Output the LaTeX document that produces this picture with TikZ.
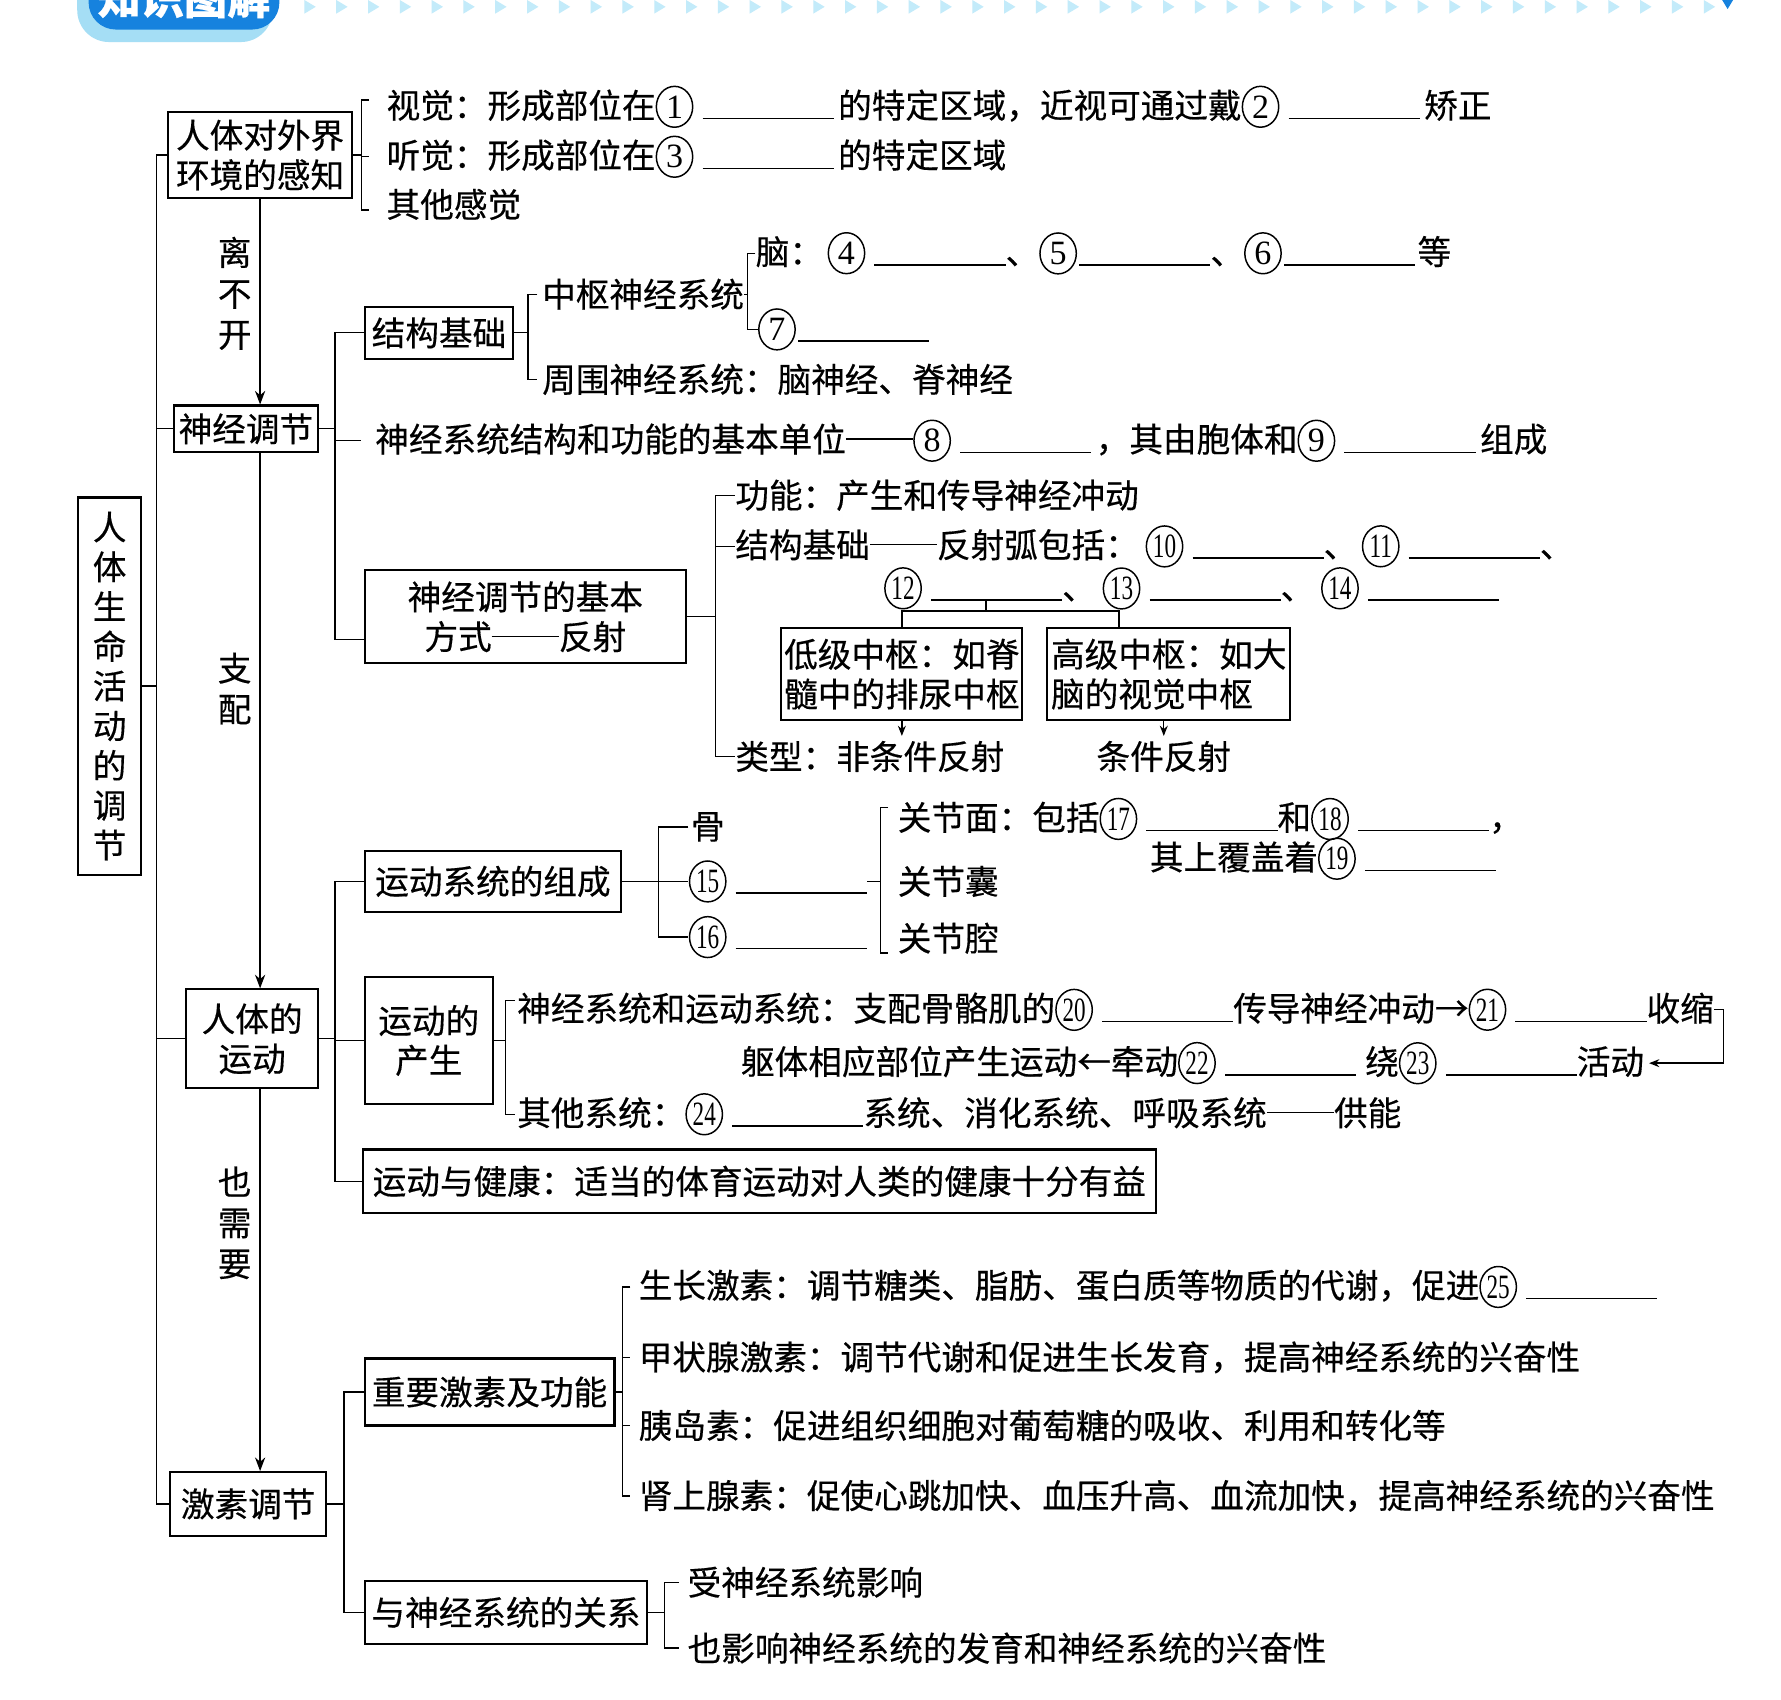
\documentclass[tikz,border=0pt]{standalone}
\usepackage{graphicx}
\usepackage{fontspec}
\setmainfont{Noto Sans CJK SC}[FakeBold=0.4]
\newfontfamily\numfont{Liberation Serif}
\usetikzlibrary{positioning,arrows.meta,shapes.geometric}
\definecolor{bannerblue}{RGB}{22,130,222}
\definecolor{bannerglow}{RGB}{165,222,245}
\definecolor{arrowcyan}{RGB}{195,235,250}
\newcommand{\circnum}[1]{\tikz[baseline=(cn.base)]\node[ellipse,draw,line width=0.65pt,inner sep=0pt,minimum width=16pt,minimum height=18pt,anchor=center,font=\numfont\fontsize{15pt}{15pt}\selectfont](cn){\ifnum#1>9 \scalebox{0.68}[1]{#1}\else#1\fi};}
\newcommand{\fillin}{\rule[-0.5pt]{3.9em}{0.6pt}}
\newcommand{\emline}{\rule[0.36em]{2em}{0.6pt}}

\begin{document}
\begin{tikzpicture}[
  x=0.5pt, y=-0.5pt,
  font=\fontsize{14.8pt}{17.5pt}\selectfont,
  topic/.style={draw, line width=0.9pt, align=center, inner sep=1pt},
  leaf/.style={anchor=west, inner xsep=0pt, inner ysep=2pt},
  link/.style={line width=0.6pt},
  flow/.style={line width=0.6pt, -{Stealth[length=6pt,width=4.5pt]}},
  sflow/.style={line width=0.6pt, -{Stealth[length=4.5pt,width=3.5pt]}},
  side/.style={left, align=center, inner xsep=3.5pt, inner ysep=0pt, font=\fontsize{14.8pt}{18pt}\selectfont},
]
\useasboundingbox (0,0) rectangle (1568,1496);
\fill[white] (0,0) rectangle (1568,1496);

\fill[bannerglow, rounded corners=14pt] (68,-40) rectangle (240,37);
\fill[bannerblue, rounded corners=12pt] (78,-40) rectangle (246,26);
\node[text=white, font=\fontsize{19pt}{19pt}\selectfont\bfseries] (banner) at (162,-2) {知识图解};
\foreach \i in {0,...,44}
  \fill[arrowcyan] (268+\i*28,0) -- ++(0,12) -- ++(10,-6) -- cycle;
\fill[bannerblue] (1515,-2) -- (1527,-2) -- (1521,8) -- cycle;

\node[topic, minimum width=27.5pt, minimum height=166pt] (life) at (96.5,604) {人\\体\\生\\命\\活\\动\\的\\调\\节};
\node[topic, minimum width=81pt, minimum height=37.5pt] (sense) at (229,136.5) {人体对外界\\环境的感知};
\node[topic, minimum width=63.5pt, minimum height=20.5pt] (nerve) at (216.5,377.5) {神经调节};
\node[topic, minimum width=58pt, minimum height=43.5pt] (motion) at (222,914.5) {人体的\\运动};
\node[topic, minimum width=68.5pt, minimum height=28pt] (hormone) at (218.5,1324) {激素调节};

\coordinate (tk) at (138,0);
\draw[link] (sense.west) -| (tk |- hormone.west) -- (hormone.west);
\draw[link] (life.east) -- (life.east -| tk);
\draw[link] (nerve.west) -- (nerve.west -| tk);
\draw[link] (motion.west) -- (motion.west -| tk);

\draw[flow] (sense.south) -- node[side, pos=0.46] {离\\不\\开} (sense.south |- nerve.north);
\draw[flow] (nerve.south -| sense.south) -- node[side, pos=0.44] {支\\配} (motion.north -| sense.south);
\draw[flow] (motion.south -| sense.south) -- node[side, pos=0.35] {也\\需\\要} (hormone.north -| sense.south);

\node[leaf] (vis) at (340,94) {视觉：形成部位在\circnum{1}\hspace{4pt}\fillin\hspace{2pt}的特定区域，近视可通过戴\circnum{2}\hspace{4pt}\fillin\hspace{2pt}矫正};
\node[leaf] (aud) at (340,138) {听觉：形成部位在\circnum{3}\hspace{4pt}\fillin\hspace{2pt}的特定区域};
\node[leaf] (oth) at (340,180) {其他感觉};
\coordinate (sb) at (318,0);
\draw[link] ([shift={(-7.5pt,3pt)}]vis.west) -| ([shift={(-11pt,-2.5pt)}]oth.west) -- ([shift={(-7.5pt,-2.5pt)}]oth.west);
\draw[link] (sense.east) -- (sense.east -| sb);
\draw[link] (aud.west -| sb) -- ([xshift=-7.5pt]aud.west);

\node[topic, minimum width=65.5pt, minimum height=23pt] (struct) at (386.5,293) {结构基础};
\node[leaf] (unit) at (330,388) {神经系统结构和功能的基本单位\emline\circnum{8}\hspace{4pt}\fillin\hspace{2pt}，其由胞体和\circnum{9}\hspace{4pt}\fillin\hspace{2pt}组成};
\node[topic, minimum width=141.5pt, minimum height=41pt] (reflex) at (462.5,543) {神经调节的基本\\方式\emline 反射};
\coordinate (nb) at (295,0);
\draw[link] (nerve.east) -- (nerve.east -| nb);
\draw[link] (struct.west) -- (struct.west -| nb) |- ([yshift=-10pt]reflex.west);
\draw[link] (unit.west -| nb) -- ([xshift=-6pt]unit.west);

\node[leaf] (cns) at (477,259) {中枢神经系统};
\node[leaf] (pns) at (477,334) {周围神经系统：脑神经、脊神经};
\coordinate (cb1) at (465,0);
\draw[link] ([xshift=-2pt]cns.west) -| ([xshift=-6pt]pns.west) -- ([xshift=-2pt]pns.west);
\draw[link] (struct.east) -- (struct.east -| cb1);

\node[leaf] (brain) at (665,223) {脑：\hspace{2pt}\circnum{4}\hspace{4pt}\fillin{}、\circnum{5}\hspace{1pt}\fillin{}、\circnum{6}\hspace{1pt}\fillin\hspace{1pt}等};
\node[leaf] (spine) at (667,290) {\circnum{7}\hspace{1pt}\fillin};
\coordinate (cb2) at (658,0);
\draw[link] (brain.west) -| ([xshift=-4.5pt]spine.west) -- (spine.west);
\draw[link] (cns.east) -- (cns.east -| cb2);

\node[leaf] (func) at (647,436) {功能：产生和传导神经冲动};
\node[leaf] (arc) at (647,481) {结构基础\emline 反射弧包括：\hspace{3pt}\circnum{10}\hspace{4pt}\fillin{}、\hspace{2pt}\circnum{11}\hspace{4pt}\fillin{}、};
\node[leaf] (arcb) at (778,518) {\circnum{12}\hspace{4pt}\fillin{}、\hspace{3pt}\circnum{13}\hspace{4pt}\fillin{}、\hspace{3pt}\circnum{14}\hspace{4pt}\fillin};
\node[topic, align=left, minimum width=106pt, minimum height=40.5pt] (low) at (794,593.5) {低级中枢：如脊\\髓中的排尿中枢};
\node[topic, align=left, minimum width=107pt, minimum height=40.5pt] (high) at (1029,593.5) {高级中枢：如大\\脑的视觉中枢};
\node[leaf] (type) at (647,666) {类型：非条件反射};
\node[leaf] (cond) at (965,666) {条件反射};
\coordinate (rb) at (630,0);
\draw[link] (func.west) -| ([xshift=-8.5pt]type.west) -- (type.west);
\draw[link] (arc.west -| rb) -- (arc.west);
\draw[link] (reflex.east) -- (reflex.east -| rb);
\coordinate (fork) at (868,528);
\coordinate (forkb) at (868,538);
\draw[link] (fork) -- (forkb);
\draw[link] (low.north) |- (forkb) -| ([xshift=-22pt]high.north);
\draw[sflow] (low.south) -- (low.south |- type.north);
\draw[sflow] (cond.north |- high.south) -- (cond.north);

\node[topic, minimum width=113pt, minimum height=27pt] (comp) at (434,776) {运动系统的组成};
\node[topic, minimum width=56.5pt, minimum height=56pt] (gen) at (377.5,916) {运动的\\产生};
\node[topic, minimum width=349pt, minimum height=28pt] (health) at (668.5,1040) {运动与健康：适当的体育运动对人类的健康十分有益};
\draw[link] (motion.east) -- (motion.east -| nb);
\draw[link] (comp.west) -- (comp.west -| nb) |- (health.west);
\draw[link] (gen.west) -- (gen.west -| nb);

\node[leaf] (bone) at (608,728) {骨};
\node[leaf] (c15) at (606,776) {\circnum{15}\hspace{4pt}\fillin};
\node[leaf] (c16) at (606,825) {\circnum{16}\hspace{4pt}\fillin};
\draw[link] ([xshift=-1pt]bone.west) -| ([xshift=-13pt]c16.west) -- (c16.west);
\draw[link] (comp.east) -- (c15.west);

\node[leaf] (face) at (790,721) {关节面：包括\circnum{17}\hspace{4pt}\fillin{}和\circnum{18}\hspace{4pt}\fillin{}，};
\node[leaf] (cover) at (1012,756) {其上覆盖着\circnum{19}\hspace{4pt}\fillin};
\node[leaf] (caps) at (790,776) {关节囊};
\node[leaf] (cavity) at (790,826) {关节腔};
\coordinate (jb) at (775,0);
\draw[link] ([shift={(-4pt,5pt)}]face.west) -| ([shift={(-7.5pt,-6.5pt)}]cavity.west) -- ([shift={(-4pt,-6.5pt)}]cavity.west);
\draw[link] (c15.east) -- (c15.east -| jb);

\node[leaf] (drive) at (455,889) {神经系统和运动系统：支配骨骼肌的\circnum{20}\hspace{4pt}\fillin{}传导神经冲动→\circnum{21}\hspace{4pt}\fillin{}收缩};
\node[leaf] (move) at (652,936) {躯体相应部位产生运动←牵动\circnum{22}\hspace{4pt}\fillin\hspace{4pt}绕\circnum{23}\hspace{4pt}\fillin{}活动};
\node[leaf] (supply) at (455,981) {其他系统：\circnum{24}\hspace{4pt}\fillin{}系统、消化系统、呼吸系统\emline 供能};
\coordinate (gb) at (445,0);
\draw[link] ([shift={(-1pt,4pt)}]drive.west) -| ([xshift=-5pt]supply.west) -- ([xshift=-1pt]supply.west);
\draw[link] (gen.east) -- (gen.east -| gb);
\draw[sflow] (drive.east) -- ++(8,0) |- ([xshift=2pt]move.east);

\node[topic, minimum width=110pt, minimum height=29.5pt] (horm) at (431,1225.5) {重要激素及功能};
\node[topic, minimum width=124.5pt, minimum height=27.5pt] (rel) at (445.5,1419.5) {与神经系统的关系};
\coordinate (hb) at (303,0);
\draw[link] (hormone.east) -- (hormone.east -| hb);
\draw[link] (horm.west) -- (horm.west -| hb) |- (rel.west);

\node[leaf] (gh) at (562,1133) {生长激素：调节糖类、脂肪、蛋白质等物质的代谢，促进\circnum{25}\hspace{4pt}\fillin};
\node[leaf] (thy) at (562,1195) {甲状腺激素：调节代谢和促进生长发育，提高神经系统的兴奋性};
\node[leaf] (ins) at (562,1255) {胰岛素：促进组织细胞对葡萄糖的吸收、利用和转化等};
\node[leaf] (adr) at (562,1317) {肾上腺素：促使心跳加快、血压升高、血流加快，提高神经系统的兴奋性};
\coordinate (hb2) at (548,0);
\draw[link] ([xshift=-3.5pt]gh.west) -| ([xshift=-7pt]adr.west) -- ([xshift=-3.5pt]adr.west);
\draw[link] (thy.west -| hb2) -- ([xshift=-3.5pt]thy.west);
\draw[link] (ins.west -| hb2) -- ([xshift=-3.5pt]ins.west);
\draw[link] (horm.east) -- (horm.east -| hb2);

\node[leaf] (infl) at (605,1393) {受神经系统影响};
\node[leaf] (affe) at (605,1451) {也影响神经系统的发育和神经系统的兴奋性};
\coordinate (rb2) at (585,0);
\draw[link] ([xshift=-3.5pt]infl.west) -| ([xshift=-10pt]affe.west) -- ([xshift=-3.5pt]affe.west);
\draw[link] (rel.east) -- (rel.east -| rb2);
\end{tikzpicture}
\end{document}
